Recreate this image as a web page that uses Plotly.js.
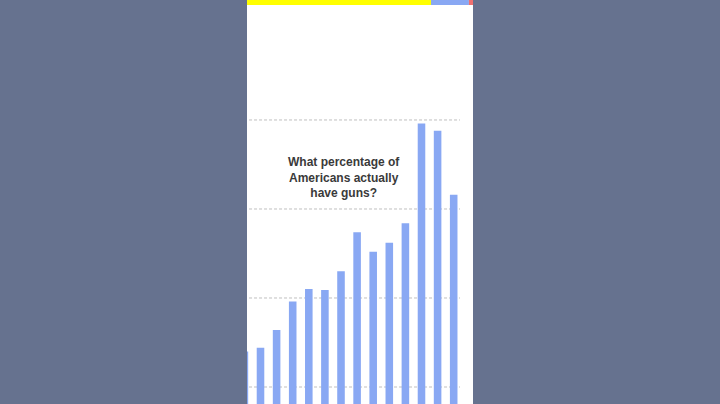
<!DOCTYPE html>
<html>
<head>
<meta charset="utf-8">
<script src="https://cdn.plot.ly/plotly-3.1.2.min.js"></script>
<style>
  html, body { margin: 0; padding: 0; background: #66728f; }
  #chart { width: 720px; height: 404px; }
</style>
</head>
<body>
<div id="chart"></div>
<script>
// bar values read off the frame (no axis labels shown, scale is relative)
const years = [2000, 2001, 2002, 2003, 2004, 2005, 2006, 2007, 2008, 2009, 2010, 2011, 2012, 2013];
const values = [7.0, 7.2, 8.2, 9.8, 10.5, 10.45, 11.5, 13.7, 12.6, 13.1, 14.2, 19.8, 19.4, 15.8];
const gridValues = [5, 10, 15, 20];
const titleLines = ["What percentage of", "Americans actually", "have guns?"];

const barColor = "#89a8f3";

const bars = {
  type: "bar",
  x: years,
  y: values,
  width: 0.47,
  marker: { color: barColor, line: { width: 0 } },
  hoverinfo: "skip",
};

// dashed guide lines across the white card
const gridShapes = gridValues.map((v) => ({
  type: "line",
  xref: "paper",
  yref: "y",
  x0: 0.009,
  x1: 0.9425,
  y0: v,
  y1: v,
  layer: "below",
  line: { color: "#bfbfbf", width: 1, dash: "3px,2px" },
}));

// progress strip at the top of the card
const strip = [
  { x0: 0, x1: 0.814, color: "#ffff00" },
  { x0: 0.814, x1: 0.982, color: barColor },
  { x0: 0.982, x1: 1, color: "#f07070" },
].map((s) => ({
  type: "rect",
  xref: "paper",
  yref: "paper",
  x0: s.x0,
  x1: s.x1,
  y0: 0.9876,
  y1: 1,
  layer: "above",
  fillcolor: s.color,
  line: { width: 0 },
}));

const layout = {
  width: 720,
  height: 404,
  margin: { l: 247, r: 247, t: 0, b: 0, pad: 0 },
  paper_bgcolor: "#66728f",
  plot_bgcolor: "#ffffff",
  showlegend: false,
  xaxis: {
    range: [2000.161, 2014.199],
    showgrid: false,
    zeroline: false,
    showticklabels: false,
    ticks: "",
    fixedrange: true,
  },
  yaxis: {
    range: [4.045, 26.74],
    showgrid: false,
    zeroline: false,
    showticklabels: false,
    ticks: "",
    fixedrange: true,
  },
  shapes: [...gridShapes, ...strip],
  annotations: [{
    text: `<b>${titleLines.join("<br>")}</b>`,
    xref: "paper",
    yref: "paper",
    x: 0.427,
    y: 0.5606,
    xanchor: "center",
    yanchor: "middle",
    align: "center",
    showarrow: false,
    font: { family: "Liberation Sans, Arial, sans-serif", size: 12, color: "#3a3a3a" },
  }],
};

Plotly.newPlot("chart", [bars], layout, { displayModeBar: false, staticPlot: true });
</script>
</body>
</html>
